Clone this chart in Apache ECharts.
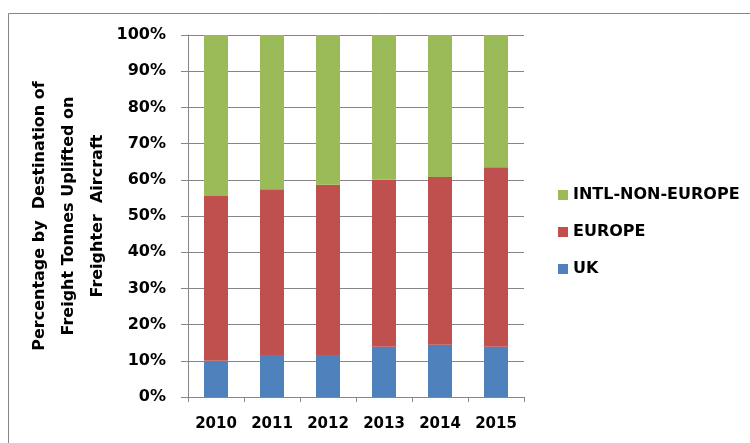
<!DOCTYPE html>
<html>
<head>
<meta charset="utf-8">
<script src="https://cdn.jsdelivr.net/npm/echarts@6/dist/echarts.min.js"></script>
<style>
  html, body { margin: 0; padding: 0; background: #fff; }
  #chart { width: 750px; height: 443px; }
</style>
</head>
<body>
<div id="chart"></div>
<script>
  // data (percent shares)
  var years = ['2010', '2011', '2012', '2013', '2014', '2015'];
  var uk = [10.0, 11.6, 11.6, 13.9, 14.4, 13.9];
  var europe = [45.5, 45.8, 47.0, 46.1, 46.4, 49.6];
  var intl = [44.5, 42.6, 41.4, 40.0, 39.2, 36.5];

  var font = 'DejaVu Sans';
  var chart = echarts.init(document.getElementById('chart'));

  chart.setOption({
    animation: false,
    textStyle: { fontFamily: font },
    graphic: [{
      type: 'rect',
      shape: { x: 8.5, y: 13.5, width: 800, height: 500 },
      style: { fill: 'none', stroke: '#868686', lineWidth: 1 }
    }],
    grid: { left: 188, right: 226, top: 35, bottom: 46, outerBoundsMode: 'none', containLabel: false },
    legend: {
      orient: 'vertical',
      left: 553,
      top: 182,
      itemWidth: 10,
      itemHeight: 10,
      itemGap: 21,
      icon: 'rect',
      data: ['INTL-NON-EUROPE', 'EUROPE', 'UK'],
      textStyle: { fontFamily: font, fontWeight: 'bold', fontSize: 16, color: '#000' }
    },
    xAxis: {
      type: 'category',
      data: years,
      axisLine: { lineStyle: { color: '#868686' } },
      axisTick: { show: true, length: 5, lineStyle: { color: '#868686' } },
      axisLabel: { interval: 0, fontFamily: font, fontWeight: 'bold', fontSize: 15, color: '#000', margin: 20 }
    },
    yAxis: {
      type: 'value',
      min: 0,
      max: 100,
      interval: 10,
      name: 'Percentage by  Destination of\nFreight Tonnes Uplifted on\nFreighter  Aircraft',
      nameLocation: 'middle',
      nameGap: 112,
      nameTextStyle: { fontFamily: font, fontWeight: 'bold', fontSize: 16, color: '#000',
        lineHeight: 29, align: 'center', verticalAlign: 'middle' },
      axisLine: { show: true, lineStyle: { color: '#868686' } },
      axisTick: { show: true, length: 7, lineStyle: { color: '#868686' } },
      splitLine: { lineStyle: { color: '#868686' } },
      axisLabel: { fontFamily: font, fontWeight: 'bold', fontSize: 16, color: '#000', margin: 22,
        formatter: '{value}%' }
    },
    series: [
      { name: 'UK', type: 'bar', stack: 'all', data: uk, barWidth: 24,
        itemStyle: { color: '#4F81BD' } },
      { name: 'EUROPE', type: 'bar', stack: 'all', data: europe, barWidth: 24,
        itemStyle: { color: '#C0504D' } },
      { name: 'INTL-NON-EUROPE', type: 'bar', stack: 'all', data: intl, barWidth: 24,
        itemStyle: { color: '#9BBB59' } }
    ]
  });
</script>
</body>
</html>
